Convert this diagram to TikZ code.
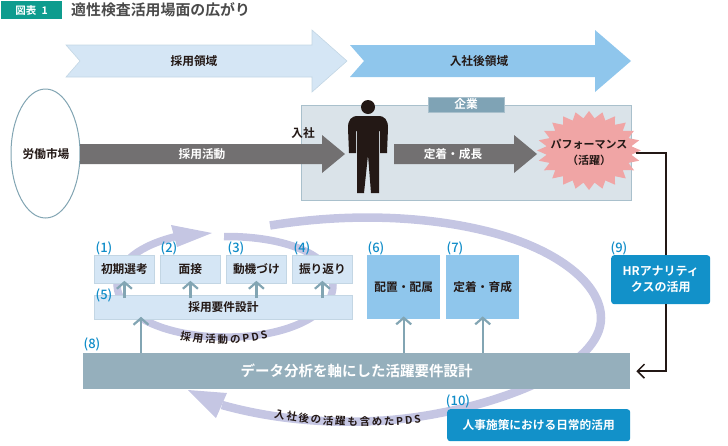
\documentclass[tikz,border=0pt]{standalone}
\usepackage{fontspec}
\usepackage{xcolor}
\setmainfont{Noto Sans CJK JP Medium}[BoldFont={Noto Sans CJK JP Bold}]
\usetikzlibrary{calc,arrows.meta,decorations.text,shapes.geometric}
\definecolor{tagteal}{HTML}{0E9C8E}
\definecolor{inktext}{HTML}{231815}
\definecolor{titlegray}{HTML}{4A4A4A}
\definecolor{palebox}{HTML}{D5E6F5}
\definecolor{paleline}{HTML}{C3D6E4}
\definecolor{skybox}{HTML}{8FC6EC}
\definecolor{greyarrow}{HTML}{727071}
\definecolor{corpfill}{HTML}{DAE3E9}
\definecolor{corpline}{HTML}{A9C0CC}
\definecolor{corptag}{HTML}{7FA3B5}
\definecolor{burstpink}{HTML}{F0A5A5}
\definecolor{barfill}{HTML}{95AFBC}
\definecolor{upline}{HTML}{82A5B3}
\definecolor{loopcol}{HTML}{C5C6E3}
\definecolor{numblue}{HTML}{0F8CC8}
\definecolor{deepblue}{HTML}{1291C9}
\tikzset{
  lab/.style={text=inktext, font=\fontsize{11.7}{14}\selectfont\bfseries, align=center},
  labw/.style={text=white, font=\fontsize{11.7}{14}\selectfont\bfseries, align=center},
  num/.style={text=numblue, font=\fontsize{13}{15}\selectfont, inner sep=0pt},
  taskbox/.style={draw=paleline, fill=palebox, line width=0.8pt, lab, inner sep=0pt, anchor=north west},
  skyrect/.style={fill=skybox, lab, inner sep=0pt, anchor=north west},
  bluerect/.style={fill=deepblue, rounded corners=3pt, labw, inner sep=0pt, anchor=north west},
  uparrow/.style={draw=upline, line width=2.2pt, -{Straight Barb[length=6.5pt,width=15pt]}, shorten >=-3pt},
  link/.style={draw=inktext, line width=1.5pt},
  loopline/.style={draw=loopcol, line width=7.5pt},
}
\newcommand{\pdsfont}{\fontsize{10.5}{12}\selectfont\bfseries\color{inktext}}

\begin{document}
\begin{tikzpicture}[x=1pt,y=-1pt]
  \useasboundingbox (0,0) rectangle (728,445);

  % heading
  \node[fill=tagteal, text=white, minimum width=61pt, minimum height=18pt, inner sep=0pt,
    font=\fontsize{10.5}{12}\selectfont\bfseries] (tag) at (31.5,10) {図表\enspace 1};
  \node[text=titlegray, font=\fontsize{14.9}{18}\selectfont\bfseries, anchor=west, inner sep=0pt] (title) at (71,10) {適性検査活用場面の広がり};

  % domain arrows
  \draw[paleline, fill=palebox, line width=0.6pt] (66,45) -- (312,45) -- (312,30) -- (347,61) -- (312,92) -- (312,77) -- (66,77) -- (80,61) -- cycle;
  \fill[skybox] (350,45) -- (595,45) -- (595,30) -- (631,61) -- (595,92) -- (595,77) -- (350,77) -- (364,61) -- cycle;
  \node[lab] (hiring) at (194,61) {採用領域};
  \node[lab] (after) at (479,61) {入社後領域};

  % company
  \draw[corpline, fill=corpfill, line width=0.8pt] (301.5,105) rectangle (631,200);
  \node[fill=corptag, draw=corpline, labw, minimum width=76pt, minimum height=15pt, inner sep=0pt] (corp) at (466,104.5) {企業};

  % market and flow
  \node[draw=upline, line width=1pt, fill=white, ellipse, minimum width=69pt, minimum height=129pt] (market) at (45.5,153.5) {};
  \node[lab] (marketlab) at (46,154) {労働市場};
  \fill[greyarrow] (80,144) -- (322,144) -- (322,135) -- (345,154) -- (322,173) -- (322,164) -- (80,164) -- cycle;
  \node[labw] (recruit) at (202,154) {採用活動};
  \node[lab] (join) at (303,133) {入社};
  \fill[greyarrow] (394,144) -- (514,144) -- (514,135) -- (537,154) -- (514,173) -- (514,164) -- (394,164) -- cycle;
  \node[labw] (settle) at (453,154) {定着・成長};

  % person
  \fill[inktext] (368,107) circle (7);
  \fill[inktext] (357,193) -- (357,131) -- (356,131) -- (356,153) -- (349,153) -- (348,128)
    .. controls (348,120) and (351,116) .. (358,116) -- (378,116)
    .. controls (385,116) and (388,120) .. (388,128) -- (387,153) -- (380,153) -- (380,131) -- (379,131)
    -- (379,193) -- (371,193) -- (368,155) -- (364,193) -- cycle;

  % performance burst
  \fill[burstpink] plot[samples at={0,7.5,...,352.5}]
    ({589+52*(1-0.18*mod(round(\x/7.5),2))*cos(\x)},{150.5+39.5*(1-0.18*mod(round(\x/7.5),2))*sin(\x)}) -- cycle;
  \node[lab, font=\fontsize{11}{16}\selectfont\bfseries] (perf) at (589,152) {パフォーマンス\\（活躍）};
  \coordinate (perfout) at (636,153);

  % PDS loops
  \draw[loopline] (224,236.5) .. controls (285,236) and (333,255) .. (333,285)
    .. controls (333,318) and (280,338) .. (225,337)
    .. controls (165,337) and (118,315) .. (117,285)
    .. controls (117,262) and (140,245) .. (178,236);
  \fill[loopcol] (171,225) -- (212,233) -- (177,247) -- cycle;
  \draw[loopline, line width=8.5pt] (270,225.5) .. controls (340,214) and (420,214) .. (490,232)
    .. controls (560,250) and (601,285) .. (601,318)
    .. controls (601,365) and (510,400) .. (440,413)
    .. controls (370,427) and (290,424) .. (222,405);
  \fill[loopcol] (188,390) -- (227,393) -- (216,418) -- cycle;

  % steps
  \node[taskbox, minimum width=60pt, minimum height=28pt] (task1) at (94,255) {初期選考};
  \node[taskbox, minimum width=60pt, minimum height=28pt] (task2) at (160,255) {面接};
  \node[taskbox, minimum width=60pt, minimum height=28pt] (task3) at (226,255) {動機づけ};
  \node[taskbox, minimum width=60pt, minimum height=28pt] (task4) at (292,255) {振り返り};
  \node[taskbox, minimum width=258pt, minimum height=24pt] (design) at (94,295) {採用要件設計};
  \node[skyrect, minimum width=73pt, minimum height=64pt] (place) at (367,255) {配置・配属};
  \node[skyrect, minimum width=73pt, minimum height=64pt] (grow) at (446,255) {定着・育成};
  \node[fill=barfill, text=white, minimum width=547pt, minimum height=36pt, inner sep=0pt, anchor=north west,
    font=\fontsize{14.5}{18}\selectfont\bfseries] (bar) at (83,353) {データ分析を軸にした活躍要件設計};
  \node[bluerect, minimum width=99pt, minimum height=49pt, font=\fontsize{12}{16}\selectfont\bfseries] (hrbox) at (611,255) {HRアナリティ\\クスの活用};
  \node[bluerect, minimum width=183pt, minimum height=32pt] (daily) at (447,409) {人事施策における日常的活用};

  % numbers
  \node[num] (n1) at (104,248) {(1)};
  \node[num] (n2) at (169,248) {(2)};
  \node[num] (n3) at (236,248) {(3)};
  \node[num] (n4) at (302,248) {(4)};
  \node[num] (n5) at (104,295) {(5)};
  \node[num] (n6) at (376,248) {(6)};
  \node[num] (n7) at (455,248) {(7)};
  \node[num] (n8) at (92,344) {(8)};
  \node[num] (n9) at (619,248) {(9)};
  \node[num] (n10) at (458,401) {(10)};

  % up arrows
  \foreach \n in {task1,task2,task3,task4}{
    \draw[uparrow, shorten <=-3pt] (design.north -| \n.south) -- (\n.south);
  }
  \coordinate (barleft) at (141,353);
  \draw[uparrow] (barleft) -- (barleft |- design.south);
  \draw[uparrow] (bar.north -| place.south) -- (place.south);
  \draw[uparrow] (bar.north -| grow.south) -- (grow.south);

  % feedback line
  \draw[link] (perfout) -| ([xshift=5.5pt]hrbox.north);
  \draw[link, -{Straight Barb[length=7pt,width=14pt]}, shorten >=6pt] ([xshift=5.5pt]hrbox.south) |- (bar.east);

  % curved captions
  \path[decorate, decoration={text along path, text align=fit to path,
    text={|\pdsfont|採用活動のPDS}}] (180,339) .. controls (205,345) and (240,345) .. (268,338);
  \path[decorate, decoration={text along path, text align=fit to path,
    text={|\pdsfont|入社後の活躍も含めたPDS}}] (274,417) .. controls (320,427) and (380,428) .. (421,423);
\end{tikzpicture}
\end{document}
